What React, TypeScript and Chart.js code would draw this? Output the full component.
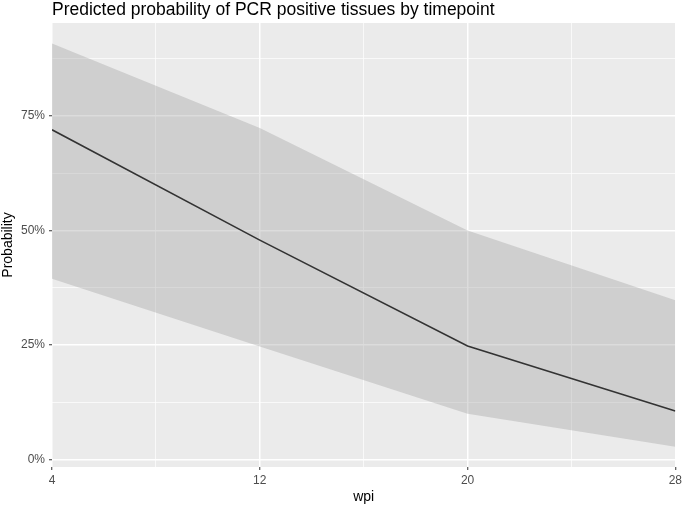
import React, { useEffect, useRef } from "react";
import { Chart, registerables } from "chart.js";

Chart.register(...registerables);

const wpi = [4, 12, 20, 28];
const probability = [0.72, 0.479, 0.248, 0.106];
const upperCI = [0.908, 0.724, 0.5, 0.348];
const lowerCI = [0.395, 0.247, 0.1, 0.028];

const xTicks = [4, 8, 12, 16, 20, 24, 28];
const xMajor = [4, 12, 20, 28];
const yTicks = [0, 0.125, 0.25, 0.375, 0.5, 0.625, 0.75, 0.875];
const yMajor = [0, 0.25, 0.5, 0.75];

const FONT = "'Liberation Sans', Arial, sans-serif";

const panelBg = {
  id: "panelBg",
  beforeDraw(chart: any) {
    const { ctx, chartArea } = chart;
    ctx.save();
    ctx.fillStyle = "#EBEBEB";
    ctx.fillRect(chartArea.left, chartArea.top, chartArea.right - chartArea.left, chartArea.bottom - chartArea.top);
    ctx.restore();
  },
};

const isMajor = (list: number[], v: number) => list.some((m) => Math.abs(m - v) < 1e-9);

export default function App() {
  const ref = useRef<HTMLCanvasElement>(null);
  useEffect(() => {
    if (!ref.current) return;
    const pts = (arr: number[]) => wpi.map((x, i) => ({ x, y: arr[i] }));
    const chart = new Chart(ref.current, {
      type: "line",
      data: {
        datasets: [
          {
            label: "Probability",
            data: pts(probability),
            borderColor: "#333333",
            borderWidth: 1.6,
            pointRadius: 0,
            fill: false,
            tension: 0,
            order: 0,
          },
          {
            label: "upper",
            data: pts(upperCI),
            borderWidth: 0,
            borderColor: "rgba(0,0,0,0)",
            backgroundColor: "rgba(153,153,153,0.34)",
            pointRadius: 0,
            fill: "+1",
            tension: 0,
            order: 1,
          },
          {
            label: "lower",
            data: pts(lowerCI),
            borderWidth: 0,
            borderColor: "rgba(0,0,0,0)",
            pointRadius: 0,
            fill: false,
            tension: 0,
            order: 2,
          },
        ],
      },
      options: {
        animation: false,
        responsive: false,
        layout: { padding: { right: 9, left: 0, top: 0, bottom: 0 } },
        plugins: {
          legend: { display: false },
          tooltip: { enabled: false },
          title: {
            display: true,
            text: "Predicted probability of PCR positive tissues by timepoint",
            align: "start",
            fullSize: false,
            color: "#000000",
            font: { family: FONT, size: 17.5, weight: "normal", lineHeight: 1 },
            padding: { top: 1.5, bottom: 4 },
          },
        },
        scales: {
          x: {
            type: "linear",
            min: 4,
            max: 28,
            afterBuildTicks: (scale: any) => {
              scale.ticks = xTicks.map((v) => ({ value: v }));
            },
            afterFit: (scale: any) => {
              scale.height = 40;
            },
            border: { display: false },
            grid: {
              color: "#FFFFFF",
              lineWidth: (c: any) => (isMajor(xMajor, c.tick?.value) ? 1.5 : 0.7),
              tickColor: (c: any) => (isMajor(xMajor, c.tick?.value) ? "#333333" : "rgba(0,0,0,0)"),
              tickWidth: 1,
              tickLength: 3,
            },
            ticks: {
              color: "#4D4D4D",
              font: { family: FONT, size: 12 },
              padding: 3,
              maxRotation: 0,
              autoSkip: false,
              callback: (v: any) => (isMajor(xMajor, Number(v)) ? String(v) : ""),
            },
            title: {
              display: true,
              text: "wpi",
              color: "#000000",
              font: { family: FONT, size: 14 },
              padding: { top: 0, bottom: 1 },
            },
          },
          y: {
            type: "linear",
            min: -0.0162,
            max: 0.953,
            afterBuildTicks: (scale: any) => {
              scale.ticks = yTicks.map((v) => ({ value: v }));
            },
            afterFit: (scale: any) => {
              scale.width = 52;
            },
            border: { display: false },
            grid: {
              color: "#FFFFFF",
              lineWidth: (c: any) => (isMajor(yMajor, c.tick?.value) ? 1.5 : 0.7),
              tickColor: (c: any) => (isMajor(yMajor, c.tick?.value) ? "#333333" : "rgba(0,0,0,0)"),
              tickWidth: 1,
              tickLength: 3,
            },
            ticks: {
              color: "#4D4D4D",
              font: { family: FONT, size: 12 },
              padding: 4,
              autoSkip: false,
              callback: (v: any) =>
                isMajor(yMajor, Number(v)) ? `${Math.round(Number(v) * 100)}%` : "",
            },
            title: {
              display: true,
              text: "Probability",
              color: "#000000",
              font: { family: FONT, size: 14 },
              padding: { top: 0, bottom: 0 },
            },
          },
        },
      },
      plugins: [panelBg],
    } as any);
    return () => chart.destroy();
  }, []);
  return (
    <div style={{ position: "fixed", left: 0, top: 0, width: 685, height: 507, background: "#FFFFFF" }}>
      <canvas ref={ref} width={685} height={507} style={{ display: "block" }} />
    </div>
  );
}
